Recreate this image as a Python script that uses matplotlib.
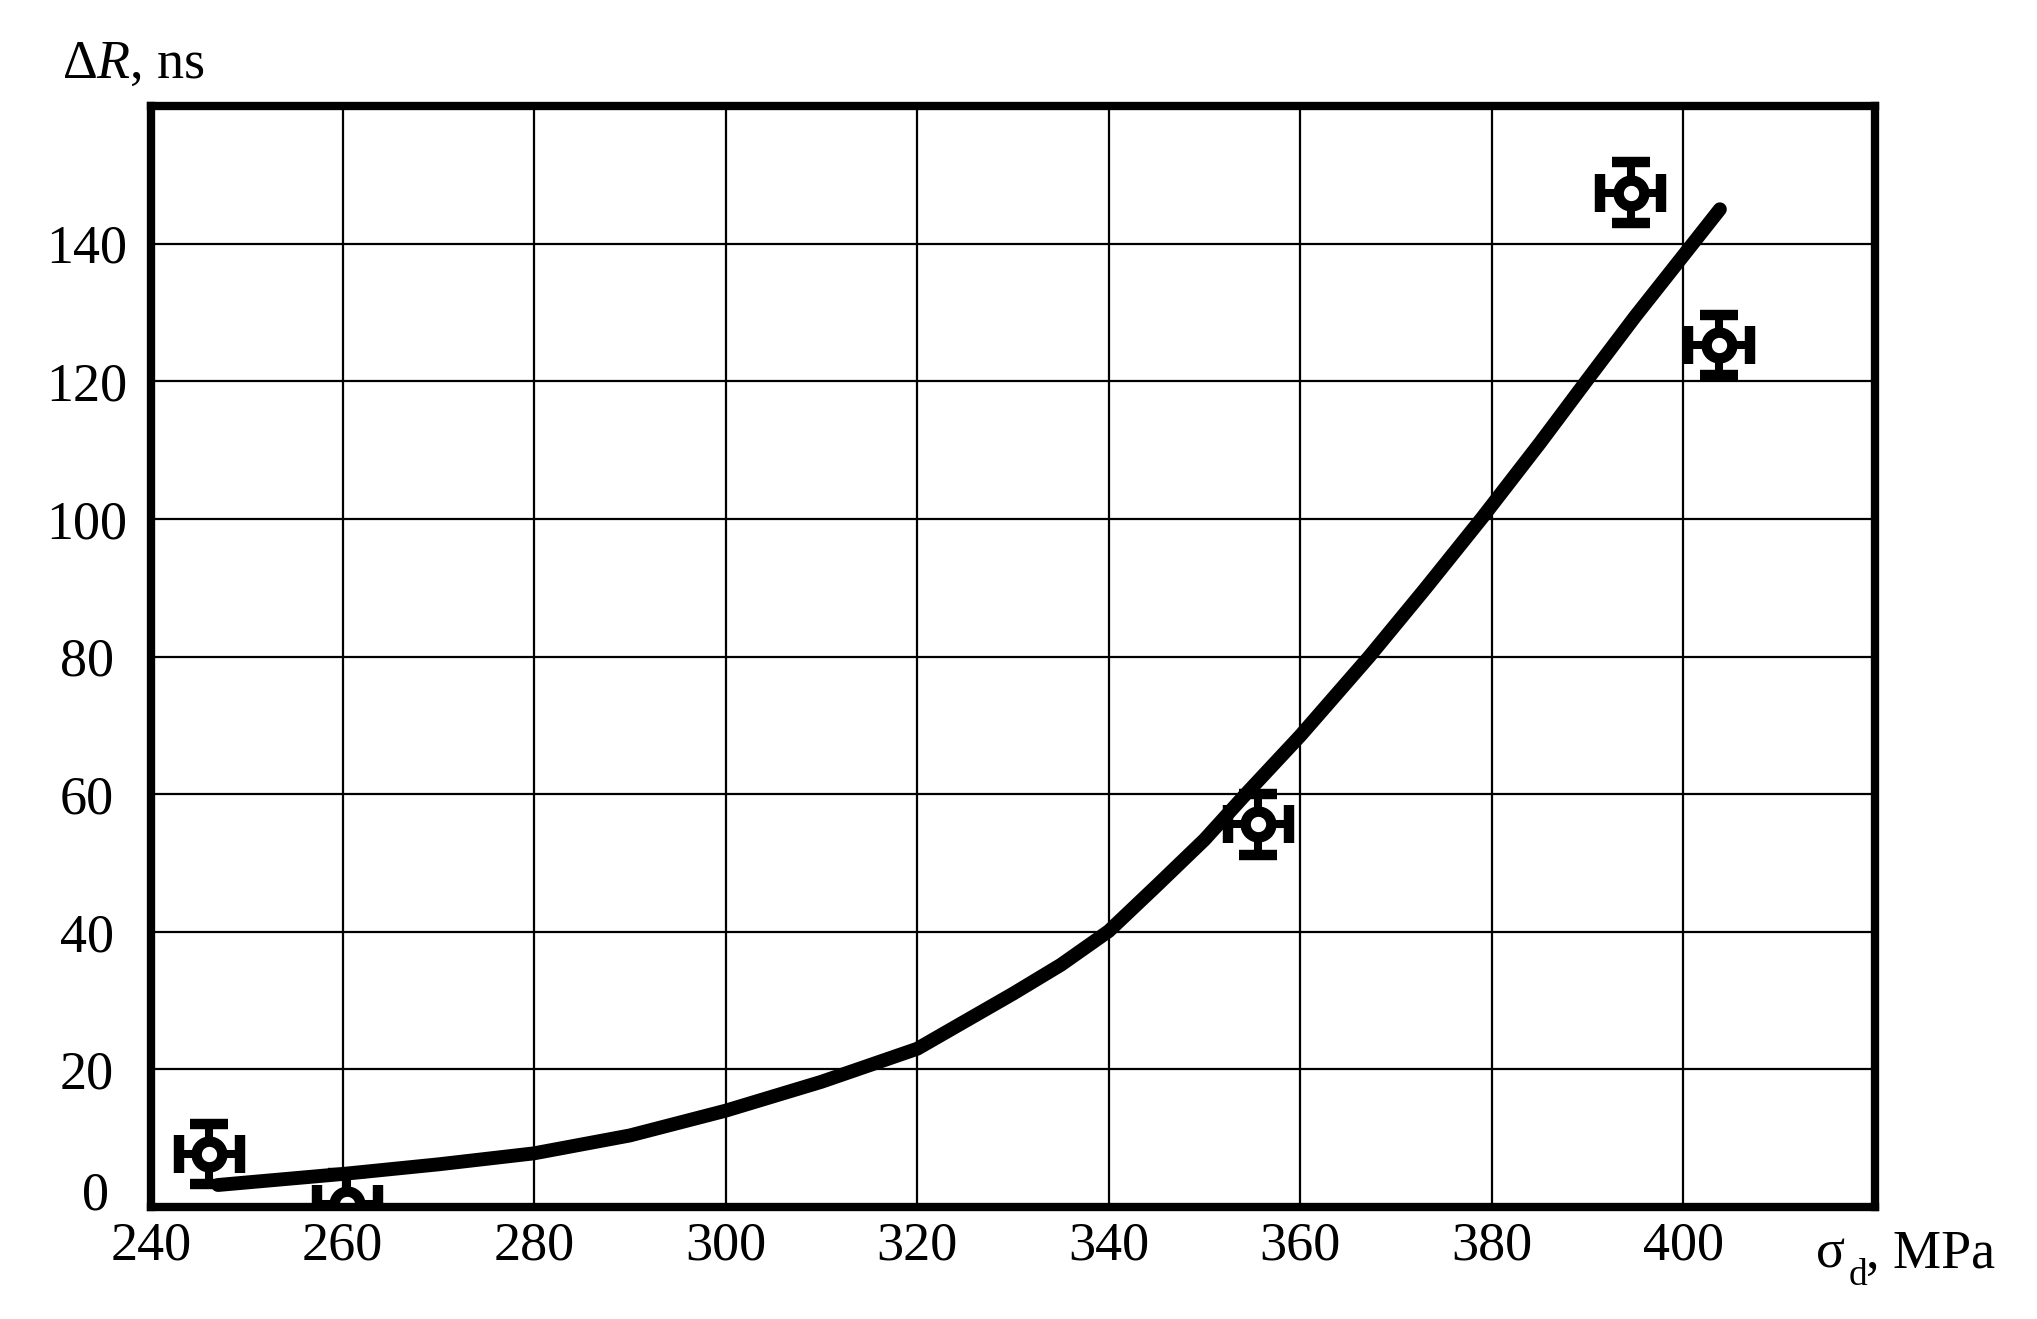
import matplotlib
matplotlib.use('Agg')
import matplotlib.pyplot as plt
import matplotlib.transforms as mtransforms

# measured points, sigma_d (MPa) vs delta R (ns)
stress = [246.1, 260.5, 355.6, 394.5, 403.7]
delta_r = [7.7, 0.5, 55.6, 147.4, 125.3]
stress_err = [3.2, 3.2, 3.2, 3.2, 3.2]
delta_r_err = [4.4, 4.4, 4.4, 4.4, 4.4]

# fitted curve
curve_x = [247, 260, 270, 280, 290, 300, 310, 320, 325, 330, 335, 340,
           345, 350, 354.3, 360, 367.2, 373, 379, 385, 390, 395, 400, 403.8]
curve_y = [3.2, 4.8, 6.2, 7.8, 10.4, 14.0, 18.2, 23.0, 27.0, 31.0, 35.2, 40.1,
           46.7, 53.4, 60.0, 68.5, 80.0, 89.8, 100.2, 111.0, 120.3, 129.5, 138.3, 145.0]

x_ticks = [240, 260, 280, 300, 320, 340, 360, 380, 400, 420]
x_labels = ['240', '260', '280', '300', '320', '340', '360', '380', '400', '']
y_ticks = [0, 20, 40, 60, 80, 100, 120, 140, 160]
y_labels = ['0', '20', '40', '60', '80', '100', '120', '140', '']

plt.rcParams['font.family'] = 'Liberation Serif'
plt.rcParams['mathtext.fontset'] = 'custom'
plt.rcParams['mathtext.rm'] = 'Liberation Serif'
plt.rcParams['mathtext.it'] = 'Liberation Serif:italic'

fig = plt.figure(figsize=(20.37, 13.19), dpi=100)
ax = fig.add_axes([0.0741, 0.0849, 0.8464, 0.8347])

ax.plot(curve_x, curve_y, color='black', linewidth=10,
        solid_capstyle='round', solid_joinstyle='round', zorder=4)
ax.errorbar(stress, delta_r, xerr=stress_err, yerr=delta_r_err, fmt='o',
            color='black', mfc='white', mec='black', ms=18.5, mew=7.5,
            elinewidth=5.8, capsize=13.5, capthick=6, zorder=3)

ax.set_xlim(240, 420)
ax.set_ylim(0, 160)
ax.set_xticks(x_ticks)
ax.set_xticklabels(x_labels)
ax.set_yticks(y_ticks)
ax.set_yticklabels(y_labels)
ax.grid(True, color='black', linewidth=1.6)
ax.set_axisbelow(True)

ax.tick_params(axis='both', length=0, labelsize=39)
ax.tick_params(axis='x', pad=10)
ax.tick_params(axis='y', pad=46)
for lbl in ax.get_yticklabels():
    lbl.set_horizontalalignment('center')

# the "0" on the y axis sits a little higher than its gridline
zero = ax.yaxis.get_major_ticks()[0].label1
zero.set_transform(zero.get_transform() +
                   mtransforms.ScaledTranslation(6/72, 12/72, fig.dpi_scale_trans))

for s in ax.spines.values():
    s.set_linewidth(6)
    s.set_zorder(5)

fig.text(62/2037, 1 - 78/1319, 'Δ$\\mathit{R}$, ns', fontsize=39, va='baseline')

# x axis name: sigma with a low subscript d
fig.text(1816/2037, 1 - 1268/1319, 'σ', fontsize=39, va='baseline')
fig.text(1849/2037, 1 - 1285/1319, 'd', fontsize=27, va='baseline')
fig.text(1866/2037, 1 - 1268/1319, ', MPa', fontsize=39, va='baseline')

fig.savefig('out.png', dpi=100)
